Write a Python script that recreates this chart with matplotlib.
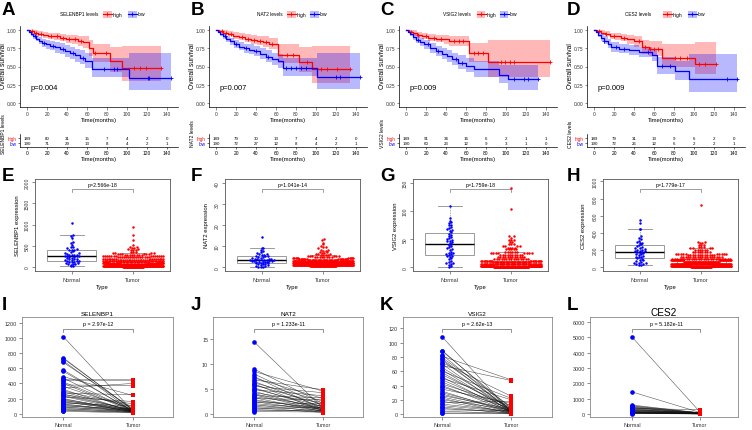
import numpy as np
import matplotlib
matplotlib.use('Agg')
import matplotlib.pyplot as plt
from matplotlib.transforms import blended_transform_factory as blend
from matplotlib.patches import Rectangle

plt.rcParams['font.family'] = ['Liberation Sans', 'DejaVu Sans']

# ======================= DATA =======================
genes = ['SELENBP1', 'NAT2', 'VSIG2', 'CES2']
km_pvals = ['p=0.004', 'p=0.007', 'p=0.009', 'p=0.009']
risk_times = [0, 20, 40, 60, 80, 100, 120, 140]
risk_A_high = [189, 80, 31, 15, 7, 4, 2, 0]
risk_A_low = [190, 71, 29, 13, 8, 4, 2, 1]
risk_B_high = [189, 79, 30, 13, 7, 4, 2, 0]
risk_B_low = [190, 72, 27, 12, 8, 4, 2, 1]
risk_C_high = [189, 91, 34, 16, 6, 2, 1, 1]
risk_C_low = [190, 60, 23, 12, 9, 3, 1, 0]
risk_D_high = [189, 79, 31, 13, 9, 6, 2, 0]
risk_D_low = [190, 72, 26, 12, 6, 2, 2, 1]

# Kaplan-Meier step curves (time, survival, CI lower, CI upper), censor times
kmA_high_t = [0, 3, 7, 11, 16, 21, 27, 33, 39, 45, 51, 56, 62, 66, 83, 95, 134]
kmA_high_s = [1.00, 0.98, 0.96, 0.94, 0.93, 0.92, 0.91, 0.89, 0.88, 0.87, 0.85, 0.83, 0.75, 0.68, 0.57, 0.48, 0.48]
kmA_high_lo = [1.00, 0.96, 0.93, 0.91, 0.89, 0.88, 0.86, 0.84, 0.82, 0.80, 0.78, 0.75, 0.64, 0.56, 0.42, 0.30, 0.30]
kmA_high_up = [1.00, 1.00, 0.99, 0.98, 0.97, 0.96, 0.95, 0.94, 0.93, 0.93, 0.92, 0.91, 0.86, 0.81, 0.76, 0.78, 0.78]
kmA_high_c = [5, 9, 14, 24, 30, 36, 42, 48, 54, 68, 79, 107, 113, 119, 134]
kmA_low_t = [0, 2, 4, 6, 9, 12, 15, 19, 23, 28, 33, 38, 43, 48, 53, 58, 65, 102, 144]
kmA_low_s = [1.00, 0.97, 0.94, 0.91, 0.88, 0.85, 0.82, 0.80, 0.78, 0.76, 0.74, 0.71, 0.68, 0.65, 0.62, 0.58, 0.47, 0.35, 0.35]
kmA_low_lo = [1.00, 0.95, 0.91, 0.87, 0.84, 0.80, 0.77, 0.74, 0.72, 0.69, 0.67, 0.63, 0.60, 0.56, 0.53, 0.48, 0.36, 0.18, 0.18]
kmA_low_up = [1.00, 0.99, 0.98, 0.95, 0.93, 0.90, 0.88, 0.86, 0.85, 0.83, 0.82, 0.79, 0.77, 0.74, 0.72, 0.69, 0.61, 0.68, 0.68]
kmA_low_c = [8, 17, 26, 36, 46, 56, 77, 87, 90, 121, 122, 144]

kmB_high_t = [0, 3, 7, 12, 17, 23, 29, 35, 41, 47, 53, 62, 83, 96, 134]
kmB_high_s = [1.00, 0.98, 0.96, 0.94, 0.92, 0.90, 0.88, 0.86, 0.85, 0.83, 0.81, 0.66, 0.56, 0.47, 0.47]
kmB_high_lo = [1.00, 0.96, 0.93, 0.91, 0.88, 0.86, 0.83, 0.81, 0.79, 0.77, 0.74, 0.55, 0.42, 0.28, 0.28]
kmB_high_up = [1.00, 1.00, 0.99, 0.98, 0.97, 0.95, 0.94, 0.93, 0.92, 0.91, 0.89, 0.80, 0.76, 0.78, 0.78]
kmB_high_c = [6, 10, 15, 26, 32, 38, 44, 50, 56, 71, 77, 91, 105, 111, 121, 134]
kmB_low_t = [0, 2, 4, 7, 10, 14, 18, 23, 28, 33, 38, 44, 50, 56, 62, 67, 101, 144]
kmB_low_s = [1.00, 0.97, 0.94, 0.91, 0.87, 0.84, 0.80, 0.77, 0.75, 0.73, 0.71, 0.67, 0.63, 0.60, 0.57, 0.48, 0.36, 0.36]
kmB_low_lo = [1.00, 0.95, 0.91, 0.87, 0.83, 0.79, 0.75, 0.72, 0.69, 0.67, 0.64, 0.60, 0.56, 0.52, 0.48, 0.37, 0.19, 0.19]
kmB_low_up = [1.00, 0.99, 0.98, 0.95, 0.92, 0.89, 0.86, 0.83, 0.81, 0.80, 0.78, 0.75, 0.72, 0.69, 0.67, 0.62, 0.68, 0.68]
kmB_low_c = [9, 20, 30, 40, 52, 70, 75, 80, 85, 90, 120, 124, 144]

kmC_high_t = [0, 3, 7, 11, 16, 22, 30, 38, 43, 63, 82, 144]
kmC_high_s = [1.00, 0.97, 0.95, 0.93, 0.91, 0.89, 0.88, 0.87, 0.84, 0.68, 0.56, 0.56]
kmC_high_lo = [1.00, 0.95, 0.92, 0.89, 0.87, 0.84, 0.83, 0.81, 0.78, 0.56, 0.36, 0.36]
kmC_high_up = [1.00, 1.00, 0.99, 0.97, 0.96, 0.94, 0.93, 0.93, 0.91, 0.82, 0.86, 0.86]
kmC_high_c = [5, 12, 20, 28, 35, 48, 53, 57, 68, 72, 77, 95, 99, 104, 108, 144]
kmC_low_t = [0, 2, 4, 7, 10, 14, 18, 24, 30, 36, 41, 46, 52, 60, 68, 93, 102, 132]
kmC_low_s = [1.00, 0.97, 0.94, 0.90, 0.86, 0.83, 0.80, 0.75, 0.71, 0.67, 0.64, 0.60, 0.55, 0.51, 0.46, 0.38, 0.33, 0.33]
kmC_low_lo = [1.00, 0.95, 0.91, 0.86, 0.82, 0.78, 0.74, 0.69, 0.64, 0.60, 0.56, 0.52, 0.47, 0.42, 0.36, 0.27, 0.18, 0.18]
kmC_low_up = [1.00, 0.99, 0.98, 0.95, 0.91, 0.89, 0.86, 0.82, 0.78, 0.75, 0.72, 0.69, 0.65, 0.61, 0.57, 0.52, 0.52, 0.52]
kmC_low_c = [12, 22, 32, 50, 56, 108, 118, 122, 132]

kmD_high_t = [0, 3, 7, 11, 16, 21, 27, 33, 40, 48, 55, 68, 101, 122]
kmD_high_s = [1.00, 0.98, 0.96, 0.94, 0.92, 0.91, 0.89, 0.87, 0.84, 0.76, 0.74, 0.62, 0.53, 0.53]
kmD_high_lo = [1.00, 0.96, 0.93, 0.91, 0.88, 0.86, 0.84, 0.81, 0.77, 0.67, 0.64, 0.50, 0.40, 0.40]
kmD_high_up = [1.00, 1.00, 0.99, 0.98, 0.96, 0.96, 0.94, 0.93, 0.91, 0.86, 0.85, 0.80, 0.83, 0.83]
kmD_high_c = [5, 12, 20, 30, 45, 51, 56, 60, 64, 81, 86, 93, 105, 111, 122]
kmD_low_t = [0, 2, 4, 7, 10, 14, 17, 25, 35, 45, 58, 63, 81, 95, 143]
kmD_low_s = [1.00, 0.97, 0.93, 0.89, 0.85, 0.80, 0.76, 0.74, 0.72, 0.70, 0.65, 0.51, 0.44, 0.33, 0.33]
kmD_low_lo = [1.00, 0.95, 0.90, 0.85, 0.80, 0.75, 0.70, 0.68, 0.66, 0.63, 0.57, 0.40, 0.31, 0.15, 0.15]
kmD_low_up = [1.00, 0.99, 0.97, 0.94, 0.91, 0.87, 0.83, 0.81, 0.79, 0.77, 0.74, 0.63, 0.58, 0.67, 0.67]
kmD_low_c = [10, 22, 30, 54, 68, 76, 133, 143]

# Row 2: expression in Normal (individual) and Tumor (value bins + counts)
box_pvals = ['p=2.566e-18', 'p=1.041e-14', 'p=1.759e-18', 'p=1.779e-17']
E_normal = [1030, 750, 730, 690, 580, 560, 520, 480, 460, 440, 420, 405, 400, 390, 370, 350, 330, 320, 300, 290,
            285, 280, 275, 270, 265, 260, 250, 240, 230, 220, 210, 200, 190, 180, 170, 160, 150, 145, 140, 130,
            120, 110, 100, 90, 80, 70, 60, 50, 35, 24]
E_tumor_vals = [930, 750, 640, 520, 480, 450, 420, 390, 360, 330, 300, 275, 250, 225, 200, 175, 150, 125, 100, 75, 50, 25, 8]
E_tumor_counts = [1, 1, 1, 1, 2, 2, 2, 3, 3, 4, 6, 8, 14, 16, 16, 18, 20, 24, 30, 45, 60, 80, 40]
F_normal = [14.5, 9.3, 9.0, 8.5, 7.8, 7.2, 6.8, 6.5, 6.2, 6.0, 5.8, 5.6, 5.4, 5.2, 5.0, 4.8, 4.6, 4.4, 4.2, 4.0,
            3.9, 3.8, 3.7, 3.6, 3.5, 3.5, 3.4, 3.3, 3.2, 3.1, 3.0, 2.9, 2.8, 2.7, 2.6, 2.5, 2.4, 2.3, 2.2, 2.0,
            1.8, 1.6, 1.4, 1.2, 1.0, 0.8, 0.6, 0.4, 0.3, 0.2]
F_tumor_vals = [13.5, 12.8, 11.8, 11.0, 10.2, 9.5, 9.0, 8.5, 8.0, 7.5, 7.0, 6.5, 6.0, 5.5, 5.0, 4.5, 4.0, 3.5, 3.0, 2.5, 2.0, 1.5, 1.0, 0.5]
F_tumor_counts = [1, 1, 1, 1, 1, 2, 1, 2, 2, 2, 2, 3, 4, 6, 8, 10, 15, 25, 35, 45, 55, 60, 60, 45]
G_normal = [109, 88, 82, 80, 78, 76, 75, 72, 70, 68, 66, 64, 62, 60, 58, 56, 54, 52, 50, 48,
            47, 46, 45, 44, 42, 40, 38, 36, 34, 32, 30, 28, 26, 25, 24, 23, 22, 21, 20, 18,
            16, 14, 12, 10, 8, 7, 6, 5, 3, 1]
G_tumor_vals = [141, 103, 55, 52, 48, 45, 42, 38, 35, 32, 28, 25, 22, 18, 15, 12, 9, 6, 3, 1]
G_tumor_counts = [1, 1, 2, 1, 3, 2, 3, 4, 4, 5, 6, 8, 10, 12, 15, 20, 30, 50, 80, 110]
H_normal = [550, 520, 450, 440, 360, 340, 330, 310, 290, 285, 280, 270, 260, 250, 240, 230, 220, 210, 205, 200,
            195, 190, 186, 180, 175, 170, 165, 160, 150, 140, 130, 125, 120, 116, 110, 100, 90, 80, 70, 60,
            55, 50, 45, 40, 35, 30, 27]
H_tumor_vals = [720, 300, 280, 260, 240, 220, 200, 180, 160, 140, 120, 100, 80, 60, 40, 20, 5]
H_tumor_counts = [1, 2, 2, 3, 3, 4, 6, 8, 10, 12, 18, 25, 35, 50, 70, 80, 40]

# Row 3: paired Normal / Tumor
pair_pvals = ['p = 2.97e-12', 'p = 1.233e-11', 'p = 2.62e-13', 'p = 5.182e-11']
I_normal = [1020, 740, 730, 700, 680, 580, 560, 490, 470, 450, 440, 420, 400, 380, 360, 340, 320, 300, 290, 270,
            260, 250, 240, 230, 220, 200, 190, 180, 170, 160, 150, 140, 130, 120, 110, 100, 90, 80, 70, 60, 50, 40, 30]
I_tumor = [30, 40, 50, 20, 60, 25, 35, 240, 30, 450, 440, 45, 30, 370, 60, 400, 20, 100, 30, 250,
           40, 130, 50, 30, 160, 20, 40, 25, 60, 30, 50, 100, 20, 40, 30, 60, 25, 45, 20, 30, 15, 20, 10]
J_normal = [14.5, 9.0, 8.5, 8.0, 7.5, 7.2, 6.8, 6.5, 6.2, 6.0, 5.8, 5.5, 5.2, 5.0, 4.8, 4.5, 4.2, 4.0, 3.8, 3.6,
            3.4, 3.2, 3.0, 2.8, 2.6, 2.4, 2.2, 2.0, 1.8, 1.6, 1.4, 1.2, 1.0, 0.8, 0.6, 0.4]
J_tumor = [1.0, 2.0, 4.5, 1.5, 0.8, 3.0, 4.8, 1.2, 2.5, 0.5, 1.8, 4.2, 0.9, 1.4, 3.6, 0.7, 2.2, 1.0, 0.6, 3.2,
           1.5, 0.4, 2.8, 0.8, 1.1, 0.5, 2.0, 0.9, 0.3, 1.6, 0.6, 0.2, 1.3, 0.4, 0.7, 0.3]
K_normal = [108, 89, 88, 83, 81, 79, 77, 75, 72, 70, 68, 65, 62, 60, 58, 55, 52, 50, 48, 45,
            42, 40, 38, 35, 32, 30, 28, 26, 24, 22, 20, 18, 16, 14, 12, 10, 8, 6, 4, 2, 1]
K_tumor = [2, 5, 8, 3, 48, 10, 4, 6, 25, 2, 47, 7, 3, 22, 5, 9, 2, 20, 6, 4,
           12, 3, 8, 15, 2, 5, 4, 7, 3, 1, 6, 2, 18, 4, 3, 1, 2, 5, 1, 2, 0.5]
L_normal = [5000, 1450, 600, 560, 520, 480, 450, 420, 400, 380, 350, 330, 300, 280, 260, 240, 220, 200, 180, 160,
            150, 140, 130, 120, 110, 100, 90, 80, 70, 60, 50]
L_tumor = [150, 120, 100, 80, 90, 70, 60, 110, 50, 300, 40, 80, 60, 70, 90, 50, 40, 60, 30, 50,
           40, 70, 30, 20, 40, 30, 60, 20, 30, 40, 20]

# ======================= LAYOUT =======================
W, H = 752, 431
fig = plt.figure(figsize=(W / 100, H / 100), dpi=100)
RED, BLUE = '#FF0000', '#0000FF'


def px_ax(x0, y0, x1, y1):
    return fig.add_axes([x0 / W, 1 - y1 / H, (x1 - x0) / W, (y1 - y0) / H])


def ftext(x, y, s, **kw):
    fig.text(x / W, 1 - y / H, s, **kw)


km_sets = [
    [(kmA_high_t, kmA_high_s, kmA_high_lo, kmA_high_up, kmA_high_c, RED),
     (kmA_low_t, kmA_low_s, kmA_low_lo, kmA_low_up, kmA_low_c, BLUE)],
    [(kmB_high_t, kmB_high_s, kmB_high_lo, kmB_high_up, kmB_high_c, RED),
     (kmB_low_t, kmB_low_s, kmB_low_lo, kmB_low_up, kmB_low_c, BLUE)],
    [(kmC_high_t, kmC_high_s, kmC_high_lo, kmC_high_up, kmC_high_c, RED),
     (kmC_low_t, kmC_low_s, kmC_low_lo, kmC_low_up, kmC_low_c, BLUE)],
    [(kmD_high_t, kmD_high_s, kmD_high_lo, kmD_high_up, kmD_high_c, RED),
     (kmD_low_t, kmD_low_s, kmD_low_lo, kmD_low_up, kmD_low_c, BLUE)],
]
risk_sets = [(risk_A_high, risk_A_low), (risk_B_high, risk_B_low),
             (risk_C_high, risk_C_low), (risk_D_high, risk_D_low)]

km_left = [20, 209, 399, 587]
km_width = 158
ylab_x = [4, 193, 383, 570]
leg_text_x = [60, 257, 443, 625]
leg_red_x = [103, 287, 477, 663]
leg_blue_x = [128, 310, 500, 688]

for i in range(4):
    x0 = km_left[i]
    ax = px_ax(x0, 27, x0 + km_width, 108)
    ax.set_xlim(-7.2, 151.2)
    ax.set_ylim(-0.05, 1.05)
    for (t, s, lo, up, cens, col) in km_sets[i]:
        ax.fill_between(t, lo, up, step='post', color=col, alpha=0.28, lw=0)
    for (t, s, lo, up, cens, col) in km_sets[i]:
        ax.step(t, s, where='post', color=col, lw=0.9)
        t_arr = np.array(t)
        idx = np.searchsorted(t_arr, np.array(cens), side='right') - 1
        ax.plot(cens, np.array(s)[idx], '+', color=col, ms=2.6, mew=0.6, ls='none')
    ax.text(3, 0.21, km_pvals[i], fontsize=5.4, va='center', ha='left')
    for sp in ['top', 'right']:
        ax.spines[sp].set_visible(False)
    for sp in ['left', 'bottom']:
        ax.spines[sp].set_linewidth(0.5)
    ax.set_xticks(risk_times)
    ax.set_yticks([0, 0.25, 0.5, 0.75, 1.0])
    ax.set_yticklabels(['0.00', '0.25', '0.50', '0.75', '1.00'])
    ax.tick_params(length=1.8, width=0.4, labelsize=3.5, pad=1, colors='#333333')
    ax.set_xlabel('Time(months)', fontsize=4.2, labelpad=0.6)
    ftext(ylab_x[i], 66, 'Overall survival', fontsize=4.8, rotation=90, ha='center', va='center')

    # risk table
    rt = px_ax(x0, 135, x0 + km_width, 147.5)
    rt.set_xlim(-7.2, 151.2)
    rt.set_ylim(0, 1)
    hi, lo_ = risk_sets[i]
    for tt, a, b in zip(risk_times, hi, lo_):
        rt.text(tt, 0.66, str(a), fontsize=3.2, ha='center', va='center')
        rt.text(tt, 0.26, str(b), fontsize=3.2, ha='center', va='center')
    rt.set_yticks([0.26, 0.66])
    rt.set_yticklabels(['low', 'high'])
    for lab, c in zip(rt.get_yticklabels(), [BLUE, RED]):
        lab.set_color(c)
    rt.set_xticks(risk_times)
    for sp in ['top', 'right']:
        rt.spines[sp].set_visible(False)
    for sp in ['left', 'bottom']:
        rt.spines[sp].set_linewidth(0.5)
    rt.tick_params(length=1.6, width=0.4, labelsize=3.5, pad=1)
    rt.tick_params(axis='y', labelsize=3.3)
    rt.set_xlabel('Time(months)', fontsize=4.2, labelpad=0.6)
    ftext(ylab_x[i], 134, genes[i] + ' levels', fontsize=3.6, rotation=90, ha='center', va='center')

    # legend
    ftext(leg_text_x[i], 15, genes[i] + ' levels', fontsize=3.4, ha='left', va='center')
    for kx, col, lab in [(leg_red_x[i], RED, 'high'), (leg_blue_x[i], BLUE, 'low')]:
        fig.patches.append(Rectangle((kx / W, 1 - 18.5 / H), 8.5 / W, 7 / H, transform=fig.transFigure,
                                     facecolor=col, alpha=0.28, lw=0))
        fig.lines.append(plt.Line2D([kx / W, (kx + 8.5) / W], [1 - 15 / H] * 2, transform=fig.transFigure,
                                    color=col, lw=0.8))
        fig.lines.append(plt.Line2D([(kx + 4.25) / W], [1 - 15 / H], transform=fig.transFigure,
                                    color=col, marker='+', ms=2.6, mew=0.6))
        ftext(kx + 10, 15, lab, fontsize=3.6, ha='left', va='center')

# ---------------- Row 2: boxplot + beeswarm ----------------
def swarm_offsets(vals, ylim, h_px, xlim, w_px, dot=2.4, maxhalf=30.0):
    vals = np.sort(np.asarray(vals, float))
    py = (vals - ylim[0]) / (ylim[1] - ylim[0]) * h_px
    rows = np.round(py / dot).astype(int)
    offs = np.zeros(len(vals))
    for r in np.unique(rows):
        idx = np.where(rows == r)[0]
        n = len(idx)
        k = np.arange(n)
        pos = np.where(k % 2 == 1, (k + 1) // 2, -(k // 2)).astype(float)
        if n % 2 == 0:
            pos = pos - 0.5
        span = dot
        m = np.abs(pos).max()
        if m * dot > maxhalf:
            span = maxhalf / m
        offs[idx] = pos * span
    return vals, offs * (xlim[1] - xlim[0]) / w_px


row2_norm = [E_normal, F_normal, G_normal, H_normal]
row2_tum = [np.repeat(E_tumor_vals, E_tumor_counts), np.repeat(F_tumor_vals, F_tumor_counts),
            np.repeat(G_tumor_vals, G_tumor_counts), np.repeat(H_tumor_vals, H_tumor_counts)]
row2_ylim = [(-93, 2070), (-1.7, 42), (-6.5, 157), (-43, 1027)]
row2_ticks = [[0, 500, 1000, 1500, 2000], [0, 10, 20, 30, 40], [0, 50, 100, 150], [0, 200, 400, 600, 800, 1000]]
row2_left = [35, 225, 413, 603]
row2_ylab_x = [17, 207, 396, 584]
xl2 = (0.4, 2.6)
for i in range(4):
    x0 = row2_left[i]
    ax = px_ax(x0, 180, x0 + 135, 272)
    ax.set_xlim(xl2)
    ax.set_ylim(row2_ylim[i])
    ax.boxplot([row2_norm[i], row2_tum[i]], positions=[1, 2], widths=0.8, showfliers=False, patch_artist=True,
               boxprops=dict(facecolor='white', edgecolor='#8a8a8a', lw=0.6),
               medianprops=dict(color='black', lw=1.0),
               whiskerprops=dict(color='#8a8a8a', lw=0.5, ls=(0, (2, 1.5))),
               capprops=dict(color='#8a8a8a', lw=0.6), zorder=1)
    v, o = swarm_offsets(row2_norm[i], row2_ylim[i], 92, xl2, 135, maxhalf=12)
    ax.scatter(1 + o, v, s=3.2, color=BLUE, lw=0, zorder=3)
    v, o = swarm_offsets(row2_tum[i], row2_ylim[i], 92, xl2, 135, maxhalf=30)
    ax.scatter(2 + o, v, s=3.2, color=RED, lw=0, zorder=3)
    tr = blend(ax.transData, ax.transAxes)
    yb = 1 - 9.5 / 92
    ax.plot([1, 1, 2, 2], [yb - 3.5 / 92, yb, yb, yb - 3.5 / 92], color='#777777', lw=0.5, transform=tr)
    ax.text(1.5, yb + 1.5 / 92, box_pvals[i], fontsize=3.8, ha='center', va='bottom', transform=tr)
    ax.set_yticks(row2_ticks[i])
    ax.set_xticks([1, 2])
    ax.set_xticklabels(['Normal', 'Tumor'])
    ax.tick_params(length=2.5, width=0.4, labelsize=3.6, pad=1.5, colors='#333333')
    ax.tick_params(axis='y', labelrotation=90)
    for lab in ax.get_yticklabels():
        lab.set_va('center')
    ax.tick_params(axis='x', labelsize=4.0)
    for sp in ax.spines.values():
        sp.set_linewidth(0.6)
        sp.set_color('#555555')
    ax.set_xlabel('Type', fontsize=4.2, labelpad=2)
    ftext(row2_ylab_x[i], 226, genes[i] + ' expression', fontsize=4.2, rotation=90, ha='center', va='center')

# ---------------- Row 3: paired ----------------
row3_norm = [I_normal, J_normal, K_normal, L_normal]
row3_tum = [I_tumor, J_tumor, K_tumor, L_tumor]
row3_ylim = [(-45, 1280), (-0.7, 19.5), (-4, 136), (-175, 6305)]
row3_ticks = [[0, 200, 400, 600, 800, 1000, 1200], [0, 5, 10, 15], [0, 20, 40, 60, 80, 100, 120],
              [0, 1000, 2000, 3000, 4000, 5000, 6000]]
row3_x = [(22, 173), (213, 363), (403, 552), (590, 738)]
row3_xlim = [(0.41, 2.57), (0.41, 2.57), (0.43, 2.59), (0.38, 2.56)]
row3_title_fs = [4.6, 4.6, 4.6, 7.2]
for i in range(4):
    x0, x1 = row3_x[i]
    ax = px_ax(x0, 318, x1, 418)
    ax.set_xlim(row3_xlim[i])
    ax.set_ylim(row3_ylim[i])
    for a, b in zip(row3_norm[i], row3_tum[i]):
        ax.plot([1, 2], [a, b], color='#111111', lw=0.35, alpha=0.8, zorder=1)
    ax.plot(np.ones(len(row3_norm[i])), row3_norm[i], 'o', color=BLUE, ms=3.3, mew=0, ls='none', zorder=3)
    ax.plot(np.full(len(row3_tum[i]), 2), row3_tum[i], 's', color=RED, ms=3.2, mew=0, ls='none', zorder=3)
    tr = blend(ax.transData, ax.transAxes)
    yb = 1 - 11.5 / 100
    ax.plot([1, 1, 2, 2], [yb - 3.5 / 100, yb, yb, yb - 3.5 / 100], color='#666666', lw=0.5, transform=tr)
    ax.text(1.5, yb + 2 / 100, pair_pvals[i], fontsize=3.9, ha='center', va='bottom', transform=tr)
    ax.set_title(genes[i], fontsize=row3_title_fs[i], pad=1.5)
    ax.set_yticks(row3_ticks[i])
    ax.set_xticks([1, 2])
    ax.set_xticklabels(['Normal', 'Tumor'])
    ax.tick_params(length=2, width=0.4, labelsize=3.9, pad=1.5, colors='#333333')
    for sp in ax.spines.values():
        sp.set_linewidth(0.6)
        sp.set_color('#888888')

# ---------------- panel letters ----------------
letters = [('A', 2, 2), ('B', 191, 2), ('C', 380, 2), ('D', 567, 2),
           ('E', 2, 168), ('F', 191, 168), ('G', 380, 168), ('H', 567, 168),
           ('I', 2, 297), ('J', 191, 297), ('K', 380, 297), ('L', 567, 297)]
for s, x, y in letters:
    ftext(x, y, s, fontsize=13.5, fontweight='bold', ha='left', va='top')

fig.savefig('out.png', dpi=100)
